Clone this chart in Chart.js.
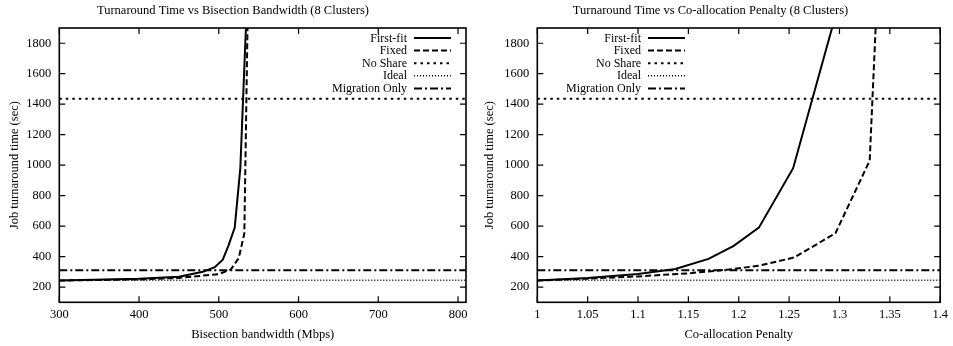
<!DOCTYPE html>
<html>
<head>
<meta charset="utf-8">
<script src="https://cdn.jsdelivr.net/npm/chart.js@4"></script>
<style>
  html, body { margin: 0; padding: 0; background: #fff; }
  .box { position: absolute; top: 0; height: 346px; }
  #left { left: 0; width: 476px; }
  #right { left: 476px; width: 477px; }
</style>
</head>
<body>
<div class="box" id="left"><canvas id="bwChart"></canvas></div>
<div class="box" id="right"><canvas id="penChart"></canvas></div>
<script>
// ---- data ----
const seriesNames = ['First-fit', 'Fixed', 'No Share', 'Ideal', 'Migration Only'];
const yTicks = [200, 400, 600, 800, 1000, 1200, 1400, 1600, 1800];

// left: turnaround vs bisection bandwidth
const bwTicks = [300, 400, 500, 600, 700, 800];
const bwFirstFitX = [300, 400, 450, 480, 495, 505, 512, 520, 527, 534, 540];
const bwFirstFitY = [243, 255, 268, 300, 330, 380, 470, 590, 980, 1900, 2600];
const bwFixedX = [300, 400, 450, 500, 515, 525, 532, 536, 540];
const bwFixedY = [243, 250, 260, 285, 315, 390, 550, 1900, 2600];

// right: turnaround vs co-allocation penalty
const penTicks = [1, 1.05, 1.1, 1.15, 1.2, 1.25, 1.3, 1.35, 1.4];
const penFirstFitX = [1.0, 1.05, 1.1, 1.137, 1.17, 1.195, 1.22, 1.254, 1.3];
const penFirstFitY = [243, 260, 285, 318, 385, 470, 590, 980, 2075];
const penFixedX = [1.0, 1.05, 1.1, 1.15, 1.19, 1.22, 1.255, 1.296, 1.33, 1.34];
const penFixedY = [243, 255, 270, 290, 315, 340, 394, 553, 1030, 2500];

// flat reference levels
const noShareLevel = 1435;
const idealLevel = 245;
const migrationLevel = 310;

const lineStyles = [
  { dash: [], width: 2 },
  { dash: [6, 3], width: 2 },
  { dash: [2.5, 4], width: 2 },
  { dash: [1, 2], width: 1.6 },
  { dash: [8, 3, 2, 3], width: 2 }
];

const FONT = 'Liberation Serif, Times New Roman, serif';

function pts(xs, ys) { return xs.map((x, i) => ({ x: x, y: ys[i] })); }

function makeSets(ffX, ffY, fxX, fxY, xMin, xMax) {
  const data = [
    pts(ffX, ffY),
    pts(fxX, fxY),
    pts([xMin, xMax], [noShareLevel, noShareLevel]),
    pts([xMin, xMax], [idealLevel, idealLevel]),
    pts([xMin, xMax], [migrationLevel, migrationLevel])
  ];
  return data.map((d, i) => ({
    label: seriesNames[i],
    data: d,
    borderColor: '#000',
    borderWidth: lineStyles[i].width,
    borderDash: lineStyles[i].dash,
    pointRadius: 0,
    tension: 0,
    fill: false
  }));
}

// gnuplot-like frame, inward ticks and legend with samples on the right
const gnuFrame = {
  id: 'gnuFrame',
  afterDatasetsDraw(chart, args, opts) {
    const { ctx, chartArea: a, scales } = chart;
    ctx.save();
    ctx.strokeStyle = '#000';
    ctx.setLineDash([]);
    ctx.lineWidth = 1.2;
    const tl = 6;
    scales.x.ticks.forEach(t => {
      const px = scales.x.getPixelForValue(t.value);
      ctx.beginPath();
      ctx.moveTo(px, a.bottom); ctx.lineTo(px, a.bottom - tl);
      ctx.moveTo(px, a.top); ctx.lineTo(px, a.top + tl);
      ctx.stroke();
    });
    scales.y.ticks.forEach(t => {
      const py = scales.y.getPixelForValue(t.value);
      ctx.beginPath();
      ctx.moveTo(a.left, py); ctx.lineTo(a.left + tl, py);
      ctx.moveTo(a.right, py); ctx.lineTo(a.right - tl, py);
      ctx.stroke();
    });
    ctx.lineWidth = 1.6;
    ctx.strokeRect(a.left, a.top, a.right - a.left, a.bottom - a.top);

    // legend
    ctx.font = '12px ' + FONT;
    ctx.fillStyle = '#000';
    ctx.textAlign = 'right';
    ctx.textBaseline = 'middle';
    chart.data.datasets.forEach((ds, i) => {
      const y = opts.top + i * 12.6;
      ctx.fillText(ds.label, opts.textRight, y + 0.5);
      ctx.lineWidth = lineStyles[i].width;
      ctx.setLineDash(lineStyles[i].dash);
      ctx.beginPath();
      ctx.moveTo(opts.sampleLeft, y); ctx.lineTo(opts.sampleLeft + 37, y);
      ctx.stroke();
    });
    ctx.restore();
  }
};

function makeChart(id, cfg) {
  return new Chart(document.getElementById(id), {
    type: 'line',
    data: { datasets: makeSets(cfg.ffX, cfg.ffY, cfg.fxX, cfg.fxY, cfg.xMin, cfg.xMax) },
    plugins: [gnuFrame],
    options: {
      responsive: true,
      maintainAspectRatio: false,
      animation: false,
      events: [],
      layout: { padding: { left: 0, right: cfg.padRight, top: 0, bottom: 0 } },
      plugins: {
        legend: { display: false },
        tooltip: { enabled: false },
        title: {
          display: true,
          text: cfg.title,
          color: '#000',
          font: { family: FONT, size: 12.5, weight: 'normal' },
          padding: { top: 3, bottom: 10 }
        },
        gnuFrame: { textRight: cfg.textRight, sampleLeft: cfg.sampleLeft, top: 38 }
      },
      scales: {
        x: {
          type: 'linear',
          min: cfg.xMin,
          max: cfg.xMax,
          grid: { display: false, drawTicks: false },
          border: { display: false },
          afterBuildTicks: s => { s.ticks = cfg.xTicks.map(v => ({ value: v })); },
          afterFit: s => { s.height = 43.7; },
          ticks: {
            color: '#000',
            padding: 5,
            maxRotation: 0,
            font: { family: FONT, size: 12.5 },
            callback: v => String(Number(v.toFixed(2)))
          },
          title: {
            display: true,
            text: cfg.xTitle,
            color: '#000',
            font: { family: FONT, size: 12.5 },
            padding: { top: 6, bottom: 4 }
          }
        },
        y: {
          min: 100,
          max: 1900,
          grid: { display: false, drawTicks: false },
          border: { display: false },
          afterBuildTicks: s => { s.ticks = yTicks.map(v => ({ value: v })); },
          afterFit: s => { s.width = cfg.plotLeft; },
          ticks: {
            color: '#000',
            padding: 8,
            font: { family: FONT, size: 12.5 },
            callback: v => String(v)
          },
          title: {
            display: true,
            text: 'Job turnaround time (sec)',
            color: '#000',
            font: { family: FONT, size: 12.5 },
            padding: { top: cfg.yTitleOff, bottom: 4 }
          }
        }
      }
    }
  });
}

makeChart('bwChart', {
  title: 'Turnaround Time vs Bisection Bandwidth (8 Clusters)',
  xTitle: 'Bisection bandwidth (Mbps)',
  ffX: bwFirstFitX, ffY: bwFirstFitY, fxX: bwFixedX, fxY: bwFixedY,
  xMin: 300, xMax: 810, xTicks: bwTicks,
  plotLeft: 59.3, padRight: 10, yTitleOff: 7,
  textRight: 407, sampleLeft: 414
});

makeChart('penChart', {
  title: 'Turnaround Time vs Co-allocation Penalty (8 Clusters)',
  xTitle: 'Co-allocation Penalty',
  ffX: penFirstFitX, ffY: penFirstFitY, fxX: penFixedX, fxY: penFixedY,
  xMin: 1, xMax: 1.4, xTicks: penTicks,
  plotLeft: 61.3, padRight: 8, yTitleOff: 6,
  textRight: 165, sampleLeft: 172
});
</script>
</body>
</html>
